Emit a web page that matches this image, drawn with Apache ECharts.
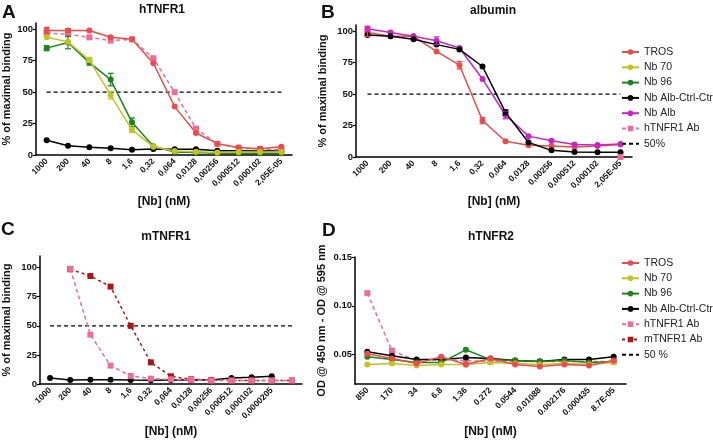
<!DOCTYPE html>
<html><head><meta charset="utf-8">
<script src="https://cdn.jsdelivr.net/npm/echarts@6/dist/echarts.min.js"></script>
<style>html,body{margin:0;padding:0;background:#fff}#c{width:713px;height:444px}</style>
</head><body><div id="c"></div>
<script>
// ---------- categories ----------
const catA = ["1000","200","40","8","1,6","0,32","0,064","0,0128","0,00256","0,000512","0,000102","2,05E-05"];
const catB = catA.slice();
const catC = ["1000","200","40","8","1,6","0,32","0,064","0,0128","0,00256","0,000512","0,000102","0,0000205",""];
const catD = ["850","170","34","6.8","1.36","0.272","0.0544","0.01088","0.002176","0.000435","8.7E-05"];

// ---------- Panel A: hTNFR1 ----------
const A_TROS   = [99, 99, 99, 93.6, 92, 73, 38.5, 17.5, 9, 6, 5, 6.5];
const A_Nb70   = [93.6, 90, 75.6, 47.7, 20, 6.6, 3.2, 2.6, 2, 2.4, 2.4, 2.4];
const A_Nb96   = [85, 89.5, 73.5, 60, 26, 7, 2.4, 1.9, 1.3, 1.3, 1.3, 1.3];
const A_Ctrl   = [11.7, 7.4, 6.1, 5.3, 4.2, 4.8, 4.5, 4.5, 3.4, 3.4, 3.2, 3.4];
const A_hAb    = [97, 96, 93.6, 91, 92, 77, 50, 21, 8.8, 5.8, 4.8, 4];
const A_TROS_err = [2.5, 1.5, 0, 0, 0, 0, 0, 0, 0, 0, 0, 0];
const A_Nb70_err = [0, 0, 2, 3, 2, 0, 0, 0, 0, 0, 0, 0];
const A_Nb96_err = [2, 5, 2, 5, 3.5, 0, 0, 0, 0, 0, 0, 0];

// ---------- Panel B: albumin ----------
const B_TROS   = [99, 96, 96, 84, 73, 29, 12.5, 9.4, 8.8, 8, 8.8, 10];
const B_Ctrl   = [97, 96, 93.6, 89.4, 85.6, 72, 35.5, 11.5, 5.3, 4, 3.7, 3.7];
const B_Alb    = [102, 99, 96, 92.5, 86.7, 62, 33.4, 16.6, 13, 10, 9.6, 10.4];
const B_hAb    = [null, null, null, null, null, null, null, null, null, null, null, 0];
const B_TROS_err = [3, 0, 0, 0, 3, 2.5, 0, 0, 0, 0, 0, 0];
const B_Alb_err  = [2, 0, 0, 3, 0, 0, 3, 0, 0, 0, 0, 0];
const B_Ctrl_err = [0, 0, 0, 0, 0, 0, 2, 0, 0, 0, 0, 0];

// ---------- Panel C: mTNFR1 ----------
const C_Ctrl   = [5.2, 3.4, 3.7, 3.7, 3.4, 3.2, 3.4, 3.4, 3.4, 5.1, 5.8, 6.6, null];
const C_hAb    = [null, 99, 42.4, 15.8, 6.9, 4.6, 4, 3.5, 3, 3, 3, 3, 3];
const C_mAb    = [null, 98.6, 92.8, 83.7, 50, 18.6, 6.6, 4, 3.5, 3, 3, 3, 3];

// ---------- Panel D: hTNFR2 ----------
const D_TROS   = [0.051, 0.046, 0.041, 0.048, 0.040, 0.046, 0.040, 0.038, 0.040, 0.039, 0.044];
const D_Nb70   = [0.040, 0.041, 0.039, 0.040, 0.040, 0.042, 0.041, 0.040, 0.041, 0.040, 0.042];
const D_Nb96   = [0.048, 0.045, 0.042, 0.042, 0.055, 0.045, 0.044, 0.043, 0.044, 0.042, 0.043];
const D_Ctrl   = [0.053, 0.049, 0.045, 0.045, 0.047, 0.046, 0.044, 0.043, 0.045, 0.045, 0.048];
const D_hAb    = [0.113, 0.054, 0.044, 0.045, 0.044, 0.043, 0.043, 0.043, 0.043, 0.043, 0.043];
const D_mAb    = [];

const halfA = catA.map(() => 50);
const halfB = catB.map(() => 50);
const halfC = catC.map(() => 50);

// ---------- styles ----------
const COL = {TROS:'#ef4a4a', Nb70:'#c3c31f', Nb96:'#17871a', Ctrl:'#000000', Alb:'#cc22cc', hAb:'#f06b9a', mAb:'#b31212'};
const FONT = 'Liberation Sans';
const NARROW = "'Liberation Sans Narrow', 'Liberation Sans'";

function line(name, idx, data, color, opts) {
  opts = opts || {};
  return {
    type: 'line', name, xAxisIndex: idx, yAxisIndex: idx, data,
    symbol: opts.symbol || 'circle', symbolSize: opts.size || 6,
    itemStyle: {color},
    lineStyle: {color, width: 1.5, type: opts.dash || 'solid'},
    connectNulls: false, z: opts.z || 2
  };
}
function dashRef(name, idx, data) {
  return {type:'line', name, xAxisIndex: idx, yAxisIndex: idx, data, symbol:'none',
    itemStyle:{color:'#000'}, lineStyle:{color:'#000', width:1.2, type:[4,3]}, z:1};
}
function err(idx, vals, errs, color) {
  const data = [];
  vals.forEach((v, i) => { if (errs[i]) data.push([i, v - errs[i], v + errs[i]]); });
  return {
    type: 'custom', name: 'err', xAxisIndex: idx, yAxisIndex: idx, data, z: 3,
    encode: {x: 0, y: [1, 2]},
    renderItem: (p, api) => {
      const x = api.value(0);
      const lo = api.coord([x, api.value(1)]);
      const hi = api.coord([x, api.value(2)]);
      const w = 3, s = {stroke: color, lineWidth: 1.2};
      return {type: 'group', children: [
        {type:'line', shape:{x1:lo[0], y1:lo[1], x2:hi[0], y2:hi[1]}, style:s},
        {type:'line', shape:{x1:lo[0]-w, y1:lo[1], x2:lo[0]+w, y2:lo[1]}, style:s},
        {type:'line', shape:{x1:hi[0]-w, y1:hi[1], x2:hi[0]+w, y2:hi[1]}, style:s}
      ]};
    }
  };
}

const grids = [
  {left: 34, top: 23, width: 258, height: 132},
  {left: 356, top: 25, width: 276, height: 132},
  {left: 35, top: 256, width: 267, height: 128},
  {left: 355, top: 257, width: 271, height: 127}
];
const cats = [catA, catB, catC, catD];
const xGaps = [41, 39, 42, 42];
const xAxis = cats.map((c, i) => ({
  type: 'category', gridIndex: i, data: c, boundaryGap: true,
  name: '[Nb] (nM)', nameLocation: 'middle', nameGap: xGaps[i],
  nameTextStyle: {fontFamily: FONT, fontWeight: 'bold', fontSize: 12, color: '#111'},
  axisLine: {lineStyle: {color: '#000', width: 1.5}},
  axisTick: {alignWithLabel: true, length: 4, lineStyle: {color: '#000', width: 1.2}},
  axisLabel: {rotate: 45, interval: 0, fontFamily: FONT, fontWeight: 'bold', fontSize: 8.5, color: '#111', margin: 5},
  splitLine: {show: false}
}));
const yBase = (i, name, gap) => ({
  type: 'value', gridIndex: i, name, nameLocation: 'middle', nameGap: gap,
  nameTextStyle: {fontFamily: FONT, fontWeight: 'bold', fontSize: 11, color: '#111'},
  axisLine: {show: true, lineStyle: {color: '#000', width: 1.5}},
  axisTick: {show: true, length: 3, lineStyle: {color: '#000', width: 1.2}},
  axisLabel: {fontFamily: FONT, fontWeight: 'bold', fontSize: 9.5, color: '#111', margin: 3},
  splitLine: {show: false}
});
const pctTicks = [0, 25, 50, 75, 100];
const yAxis = [
  Object.assign(yBase(0, '% of maximal binding', 24), {min: 0, max: 105}),
  Object.assign(yBase(1, '% of maximal binding', 28), {min: 0, max: 105}),
  Object.assign(yBase(2, '% of maximal binding', 28), {min: 0, max: 110}),
  Object.assign(yBase(3, 'OD @ 450 nm - OD @ 595 nm', 28), {min: 0.02, max: 0.15})
];
[0, 1, 2].forEach(i => {
  yAxis[i].axisLabel.customValues = pctTicks;
  yAxis[i].axisTick.customValues = pctTicks;
});
yAxis[3].axisLabel.customValues = [0.05, 0.10, 0.15];
yAxis[3].axisTick.customValues = [0.05, 0.10, 0.15];
yAxis[3].axisLabel.formatter = v => v.toFixed(2);

const series = [
  // A
  dashRef('50%', 0, halfA),
  line('Nb Alb-Ctrl-Ctrl', 0, A_Ctrl, COL.Ctrl),
  line('hTNFR1 Ab', 0, A_hAb, COL.hAb, {symbol:'rect', size:6, dash:[4,3]}),
  line('TROS', 0, A_TROS, COL.TROS),
  line('Nb 96', 0, A_Nb96, COL.Nb96),
  line('Nb 70', 0, A_Nb70, COL.Nb70, {z:3}),
  err(0, A_TROS, A_TROS_err, COL.TROS),
  err(0, A_Nb96, A_Nb96_err, COL.Nb96),
  err(0, A_Nb70, A_Nb70_err, COL.Nb70),
  // B
  dashRef('50%', 1, halfB),
  line('TROS', 1, B_TROS, COL.TROS),
  line('Nb Alb', 1, B_Alb, COL.Alb),
  line('Nb Alb-Ctrl-Ctrl', 1, B_Ctrl, COL.Ctrl),
  line('hTNFR1 Ab', 1, B_hAb, COL.hAb, {symbol:'rect', size:6, dash:[4,3]}),
  err(1, B_TROS, B_TROS_err, COL.TROS),
  err(1, B_Alb, B_Alb_err, COL.Alb),
  err(1, B_Ctrl, B_Ctrl_err, COL.Ctrl),
  // C
  dashRef('50%', 2, halfC),
  line('Nb Alb-Ctrl-Ctrl', 2, C_Ctrl, COL.Ctrl),
  line('mTNFR1 Ab', 2, C_mAb, COL.mAb, {symbol:'rect', size:6, dash:[3,3]}),
  line('hTNFR1 Ab', 2, C_hAb, COL.hAb, {symbol:'rect', size:6, dash:[4,3], z:3}),
  // D
  line('hTNFR1 Ab', 3, D_hAb, COL.hAb, {symbol:'rect', size:6, dash:[4,3]}),
  line('mTNFR1 Ab', 3, D_mAb, COL.mAb, {symbol:'rect', size:6, dash:[3,3]}),
  line('Nb Alb-Ctrl-Ctrl', 3, D_Ctrl, COL.Ctrl),
  line('Nb 96', 3, D_Nb96, COL.Nb96),
  line('Nb 70', 3, D_Nb70, COL.Nb70),
  line('TROS', 3, D_TROS, COL.TROS, {z:3}),
  {type:'line', name:'50 %', xAxisIndex:3, yAxisIndex:3, data:[], symbol:'none',
   itemStyle:{color:'#000'}, lineStyle:{color:'#000', width:1.2, type:[4,3]}}
];

const legendCommon = {
  orient: 'vertical', itemWidth: 17, itemHeight: 7, itemGap: 4.3, padding: 0, selectedMode: false,
  textStyle: {fontFamily: NARROW, fontSize: 10.5, color: '#222'}
};
const noMark = {color: 'rgba(0,0,0,0)', borderWidth: 0};
const legend = [
  Object.assign({}, legendCommon, {left: 621, top: 46.5,
    data: ['TROS','Nb 70','Nb 96','Nb Alb-Ctrl-Ctrl','Nb Alb','hTNFR1 Ab',{name:'50%', itemStyle: noMark}]}),
  Object.assign({}, legendCommon, {left: 621, top: 257.5,
    data: ['TROS','Nb 70','Nb 96','Nb Alb-Ctrl-Ctrl','hTNFR1 Ab','mTNFR1 Ab',{name:'50 %', itemStyle: noMark}]})
];

const txt = (x, y, t, size) => ({type:'text', left: x, top: y,
  style:{text: t, fontFamily: FONT, fontWeight: 'bold', fontSize: size, fill: '#111'}});
const ttl = (x, y, t) => ({type:'text', x, y,
  style:{text: t, fontFamily: FONT, fontWeight: 'bold', fontSize: 12, fill: '#111', align: 'center', verticalAlign: 'middle'}});
const graphic = [
  txt(2, 3, 'A', 19), txt(321, 3, 'B', 19), txt(1, 220, 'C', 19), txt(322, 221, 'D', 19),
  ttl(162, 10, 'hTNFR1'), ttl(493, 11, 'albumin'), ttl(166, 237, 'mTNFR1'), ttl(491, 237, 'hTNFR2')
];

const chart = echarts.init(document.getElementById('c'), null, {renderer: 'canvas'});
chart.setOption({animation: false, backgroundColor: '#fff', grid: grids, xAxis, yAxis, series, legend, graphic});
</script></body></html>
